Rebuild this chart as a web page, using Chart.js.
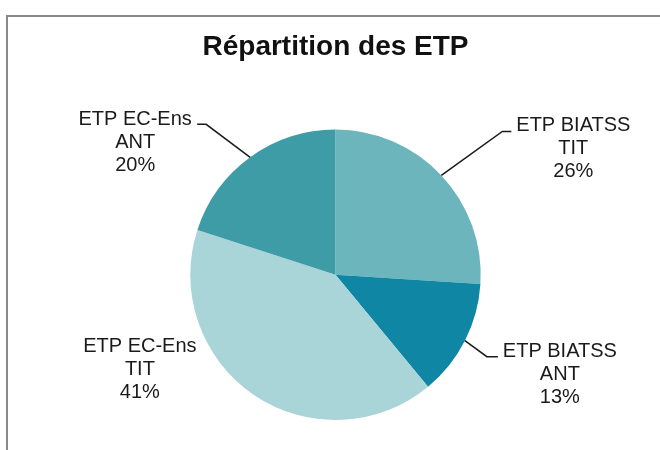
<!DOCTYPE html>
<html>
<head>
<meta charset="utf-8">
<script src="https://cdn.jsdelivr.net/npm/chart.js@4/dist/chart.umd.min.js"></script>
<style>
    html, body { margin: 0; padding: 0; background: #fff; }
    #wrap { width: 660px; height: 450px; }
</style>
</head>
<body>
<div id="wrap"><canvas id="myChart" width="660" height="450"></canvas></div>
<script>
const categories = [
    ['ETP BIATSS', 'TIT'],
    ['ETP BIATSS', 'ANT'],
    ['ETP EC-Ens', 'TIT'],
    ['ETP EC-Ens', 'ANT'],
];
const values = [26, 13, 41, 20];
const colors = ['#6cb5bc', '#0e86a4', '#a9d4d8', '#3d9ca5'];

// label placement relative to the point on the rim at the middle of each slice
const labelLayout = [
    { elbow: [61, -44], end: [70, -44], text: [132, -50] },
    { elbow: [22, 16], end: [33, 16], text: [95, 11] },
    { elbow: null, end: null, text: [-114, -48] },
    { elbow: [-44, -33], end: [-53, -33], text: [-115, -38] },
];

const framePlugin = {
    id: 'frame',
    beforeDraw(chart) {
        const ctx = chart.ctx;
        ctx.save();
        ctx.fillStyle = '#fff';
        ctx.fillRect(0, 0, chart.width, chart.height);
        ctx.strokeStyle = '#8a8a8a';
        ctx.lineWidth = 2;
        ctx.beginPath();
        ctx.moveTo(7, chart.height + 2);
        ctx.lineTo(7, 16);
        ctx.lineTo(chart.width + 2, 16);
        ctx.stroke();
        ctx.restore();
    }
};

const labelPlugin = {
    id: 'sliceLabels',
    afterDatasetsDraw(chart) {
        const ctx = chart.ctx;
        const meta = chart.getDatasetMeta(0);
        const total = values.reduce((a, b) => a + b, 0);
        ctx.save();
        ctx.font = '20px "Liberation Sans", Arial, sans-serif';
        ctx.fillStyle = '#1a1a1a';
        ctx.strokeStyle = '#1a1a1a';
        ctx.lineWidth = 1.5;
        ctx.textAlign = 'center';
        ctx.textBaseline = 'middle';
        meta.data.forEach((arc, i) => {
            const p = arc.getProps(['x', 'y', 'startAngle', 'endAngle', 'outerRadius'], true);
            const mid = (p.startAngle + p.endAngle) / 2;
            const ax = p.x + Math.cos(mid) * p.outerRadius;
            const ay = p.y + Math.sin(mid) * p.outerRadius;
            const lay = labelLayout[i];
            if (lay.elbow) {
                ctx.beginPath();
                ctx.moveTo(ax, ay);
                ctx.lineTo(ax + lay.elbow[0], ay + lay.elbow[1]);
                ctx.lineTo(ax + lay.end[0], ay + lay.end[1]);
                ctx.stroke();
            }
            const lines = [...categories[i], Math.round(values[i] / total * 100) + '%'];
            lines.forEach((t, k) => {
                ctx.fillText(t, ax + lay.text[0], ay + lay.text[1] + k * 23);
            });
        });
        ctx.restore();
    }
};

let config = {
    type: 'pie',
    data: {
        labels: categories,
        datasets: [{
            data: values,
            backgroundColor: colors,
            borderWidth: 0
        }]
    },
    options: {
        responsive: false,
        animation: false,
        layout: {
            padding: { left: 190, right: 179, top: 20, bottom: 30 }
        },
        plugins: {
            legend: { display: false },
            tooltip: { enabled: false },
            title: {
                display: true,
                text: 'Répartition des ETP',
                color: '#111',
                font: { family: '"Liberation Sans", Arial, sans-serif', size: 28, weight: 'bold', lineHeight: 1.2 },
                padding: { top: 10, bottom: 66 }
            }
        }
    },
    plugins: [framePlugin, labelPlugin]
};

let myChart = new Chart(document.getElementById('myChart'), config);
</script>
</body>
</html>
